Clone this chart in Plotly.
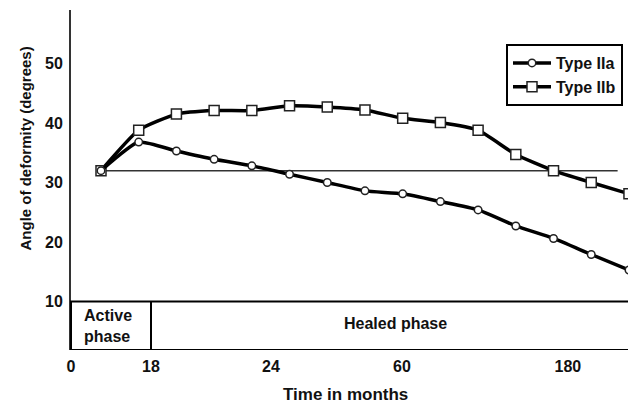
import plotly.graph_objects as go

# ---- data ----
point_slots = list(range(15))  # evenly spaced follow-up visits (category slots)
type_iia = [32.0, 36.8, 35.3, 33.9, 32.8, 31.4, 30.0, 28.6, 28.1, 26.8, 25.4, 22.7, 20.6, 17.9, 15.3]
type_iib = [32.0, 38.8, 41.5, 42.1, 42.1, 42.9, 42.7, 42.2, 40.8, 40.1, 38.8, 34.7, 32.0, 30.0, 28.1]
ref_x = [0, 13.7]
ref_y = [32.0, 32.0]

x_tick_labels = ["0", "18", "24", "60", "180"]
x_tick_slots = [-0.7955, 1.326, 4.508, 7.98, 12.38]
y_ticks = [10, 20, 30, 40, 50]

phase_labels = ["Active<br>phase", "Healed phase"]
phase_boundary = 1.326   # 18 months
phase_top = 10

X_RANGE = [-0.7955, 14.134]
Y_RANGE = [1.85, 59.0]

FONT = "Liberation Sans, Arial, sans-serif"

fig = go.Figure()

fig.add_trace(go.Scatter(
    x=ref_x, y=ref_y, mode="lines",
    line=dict(color="#333333", width=1.5),
    showlegend=False, hoverinfo="skip"))

fig.add_trace(go.Scatter(
    x=point_slots, y=type_iib, mode="lines+markers", name="Type IIb",
    legendgroup="b",
    line=dict(color="black", width=3.5, shape="spline", smoothing=0.5),
    marker=dict(symbol="square", size=10, color="white",
                line=dict(color="#222222", width=1.5))))

fig.add_trace(go.Scatter(
    x=point_slots, y=type_iia, mode="lines+markers", name="Type IIa",
    legendgroup="a",
    line=dict(color="black", width=3.5, shape="spline", smoothing=0.5),
    marker=dict(symbol="circle", size=7.5, color="white",
                line=dict(color="#222222", width=1.5))))

# phase box
fig.add_shape(type="rect", xref="paper", yref="y", x0=0, x1=1,
              y0=Y_RANGE[0], y1=phase_top,
              line=dict(color="black", width=2), fillcolor="rgba(0,0,0,0)")
fig.add_shape(type="line", xref="x", yref="y", x0=phase_boundary, x1=phase_boundary,
              y0=Y_RANGE[0], y1=phase_top, line=dict(color="black", width=2))

fig.add_annotation(x=0.19, y=(Y_RANGE[0] + phase_top) / 2, xref="x", yref="y",
                   text=phase_labels[0], showarrow=False, align="left",
                   font=dict(family=FONT, size=16, color="#111111", weight=600))
fig.add_annotation(x=7.82, y=(Y_RANGE[0] + phase_top) / 2 + 0.3, xref="x", yref="y",
                   text=phase_labels[1], showarrow=False,
                   font=dict(family=FONT, size=16, color="#111111", weight=600))

# axis titles
fig.add_annotation(x=(345 - 71) / 563, y=-44 / 340, xref="paper", yref="paper",
                   text="Time in months", showarrow=False,
                   xanchor="center", yanchor="middle",
                   font=dict(family=FONT, size=17, color="#111111", weight=600))
fig.add_annotation(x=-46 / 563, y=(350 - 148.5) / 340, xref="paper", yref="paper",
                   text="Angle of deformity (degrees)", showarrow=False, textangle=-90,
                   xanchor="center", yanchor="middle",
                   font=dict(family=FONT, size=15, color="#111111", weight=600))

# page body has an 8px margin, so the figure is sized to fit inside the window
fig.update_layout(
    width=628, height=398,
    margin=dict(l=63, r=2, t=2, b=56, autoexpand=False),
    paper_bgcolor="white", plot_bgcolor="white",
    font=dict(family=FONT, size=16, color="#111111"),
    showlegend=True,
    legend=dict(x=(506 - 71) / 563, y=(350 - 44) / 340, xanchor="left", yanchor="top",
                bordercolor="black", borderwidth=2, bgcolor="white",
                traceorder="reversed", tracegroupgap=7, itemwidth=38,
                font=dict(family=FONT, size=16, color="#111111", weight=600)),
    xaxis=dict(range=X_RANGE, showgrid=False, zeroline=False, showline=False,
               automargin=False,
               tickmode="array", tickvals=x_tick_slots, ticktext=x_tick_labels,
               ticks="outside", ticklen=2, tickcolor="rgba(0,0,0,0)",
               tickfont=dict(family=FONT, size=16, weight=600)),
    yaxis=dict(range=Y_RANGE, showgrid=False, zeroline=False, showline=True,
               automargin=False,
               linecolor="#333333", linewidth=2,
               tickmode="array", tickvals=y_ticks,
               ticks="outside", ticklen=3, tickcolor="rgba(0,0,0,0)",
               tickfont=dict(family=FONT, size=16, weight=600)),
)

fig.write_html("out.html")
